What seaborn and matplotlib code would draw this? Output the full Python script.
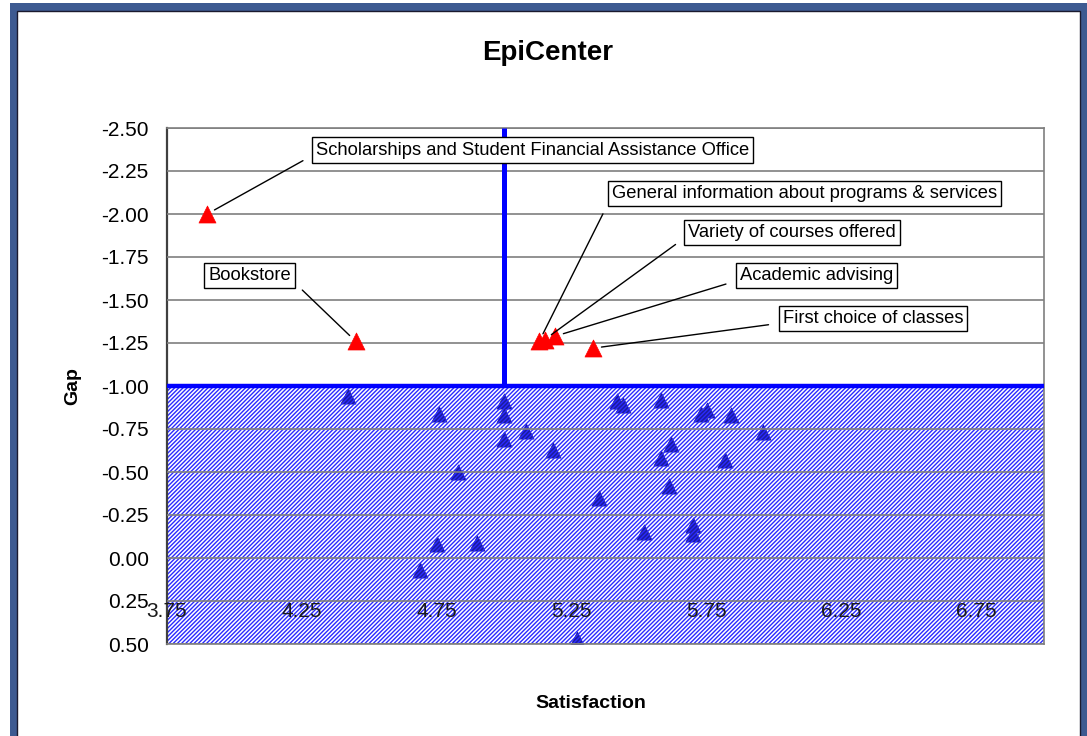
import numpy as np
import pandas as pd
import matplotlib
matplotlib.use("Agg")
import matplotlib.pyplot as plt
from matplotlib.patches import Rectangle
import seaborn as sns

# ---- data -------------------------------------------------------------
# Items whose gap exceeds the threshold (labelled)
hi_labels = [
    "Scholarships and Student Financial Assistance Office",
    "Bookstore",
    "General information about programs & services",
    "Variety of courses offered",
    "Academic advising",
    "First choice of classes",
]
hi_satisfaction = [3.90, 4.45, 5.13, 5.15, 5.19, 5.33]
hi_gap = [-2.00, -1.26, -1.26, -1.27, -1.29, -1.22]

# Remaining items
lo_satisfaction = [4.42, 4.76, 5.00, 5.00, 5.00, 5.08, 4.83, 5.18, 5.42, 5.44,
                   5.58, 5.73, 5.75, 5.84, 5.96, 5.62, 5.58, 5.82, 5.61, 5.35,
                   5.52, 5.70, 5.70, 4.90, 4.75, 4.69, 5.27]
lo_gap = [-0.94, -0.84, -0.91, -0.83, -0.69, -0.74, -0.50, -0.63, -0.91, -0.89,
          -0.92, -0.84, -0.86, -0.83, -0.73, -0.66, -0.58, -0.57, -0.42, -0.35,
          -0.15, -0.19, -0.14, -0.09, -0.08, 0.07, 0.47]

# Thresholds
sat_threshold = 5.0
gap_threshold = -1.0

# Tick values
x_ticks = [3.75, 4.25, 4.75, 5.25, 5.75, 6.25, 6.75]
y_ticks = [-2.50, -2.25, -2.00, -1.75, -1.50, -1.25, -1.00,
           -0.75, -0.50, -0.25, 0.00, 0.25, 0.50]

# Label box anchors (left edge of text, vertical centre) and leader attachment
label_xy = [(4.303, -2.372), (3.903, -1.642), (5.399, -2.119),
            (5.681, -1.895), (5.873, -1.642), (6.032, -1.392)]
label_relpos = [(0.0, 0.3), (1.0, 0.3), (0.0, 0.35),
                (0.0, 0.3), (0.0, 0.25), (0.0, 0.25)]

hi_df = pd.DataFrame({"Satisfaction": hi_satisfaction, "Gap": hi_gap})
lo_df = pd.DataFrame({"Satisfaction": lo_satisfaction, "Gap": lo_gap})

# ---- style ------------------------------------------------------------
sns.set_style("white")
plt.rcParams["font.family"] = ["Liberation Sans", "DejaVu Sans"]
plt.rcParams["hatch.linewidth"] = 1.0
plt.rcParams["text.color"] = "black"

W, H = 1087, 736
fig = plt.figure(figsize=(W / 100, H / 100), dpi=100)

# Framed background
fig.add_artist(Rectangle((10 / W, -0.01), 1.0, 1 - 3 / H + 0.01,
                         transform=fig.transFigure, facecolor="#3d5a91",
                         edgecolor="none", zorder=-10))
fig.add_artist(Rectangle((17 / W, -0.01), (1080 - 17) / W, 1 - 11 / H + 0.01,
                         transform=fig.transFigure, facecolor="white",
                         edgecolor="#1a1a2e", linewidth=1.0, zorder=-9))

ax = fig.add_axes([166.7 / W, 1 - 644 / H, (1044 - 166.7) / W, (644 - 128) / H])
ax.set_facecolor("none")
ax.set_axisbelow(False)

# Shaded region below the gap threshold
ax.axhspan(gap_threshold, 0.5, facecolor="none", edgecolor="#2a2aff",
           hatch="////////", linewidth=0, zorder=2)

# Points
sns.scatterplot(data=lo_df, x="Satisfaction", y="Gap", ax=ax, marker="^",
                s=120, color="#1c1c9c", edgecolor="#1c1c9c", linewidth=0.5,
                zorder=1.5, legend=False)
sns.scatterplot(data=hi_df, x="Satisfaction", y="Gap", ax=ax, marker="^",
                s=150, color="#ff0000", edgecolor="#ff0000", linewidth=0.5,
                zorder=4, legend=False)

# Threshold lines
ax.axhline(gap_threshold, color="#0000ff", lw=3.2, zorder=3)
ax.plot([sat_threshold, sat_threshold], [y_ticks[0], gap_threshold],
        color="#0000ff", lw=3.6, zorder=3, solid_capstyle="butt")

# Callouts
for text, (tx, ty), rp, sx, gy in zip(hi_labels, label_xy, label_relpos,
                                       hi_satisfaction, hi_gap):
    ax.annotate(text, xy=(sx, gy), xytext=(tx, ty), textcoords="data",
                ha="left", va="center", fontsize=13.2, zorder=5,
                color="black",
                bbox=dict(boxstyle="square,pad=0.22", facecolor="white",
                          edgecolor="black", linewidth=1.0),
                arrowprops=dict(arrowstyle="-", color="black", lw=1.0,
                                relpos=rp, shrinkA=7, shrinkB=6))

# Axes
ax.set_xlim(3.75, 7.0)
ax.set_ylim(0.5, -2.5)
ax.set_xticks(x_ticks)
ax.set_xticklabels([f"{v:.2f}" for v in x_ticks])
ax.set_yticks(y_ticks)
ax.set_yticklabels([f"{v + 0.0:.2f}" for v in y_ticks])
ax.set_xlabel("")
ax.set_ylabel("")

ax.yaxis.grid(True, color="#7f7f7f", linewidth=1.2)
ax.xaxis.grid(False)

ax.tick_params(axis="y", direction="out", length=5, width=1.2,
               color="#404040", pad=8, labelsize=15, labelcolor="black")
ax.tick_params(axis="x", direction="in", length=4, width=1.0,
               color="#7f7f7f", pad=-30, labelsize=15, labelcolor="#1a1a1a")

for side in ["top", "right", "bottom"]:
    ax.spines[side].set_color("#7f7f7f")
    ax.spines[side].set_linewidth(1.2)
ax.spines["left"].set_color("#404040")
ax.spines["left"].set_linewidth(1.6)

# Titles
fig.text(548 / W, 1 - 53 / H, "EpiCenter", ha="center", va="center",
         fontsize=20, fontweight="bold", color="black")
fig.text(591 / W, 1 - 703 / H, "Satisfaction", ha="center", va="center",
         fontsize=14, fontweight="bold", color="black")
fig.text(73 / W, 1 - 386 / H, "Gap", ha="center", va="center",
         fontsize=14, fontweight="bold", rotation=90, color="black")

fig.savefig("out.png", dpi=100)
